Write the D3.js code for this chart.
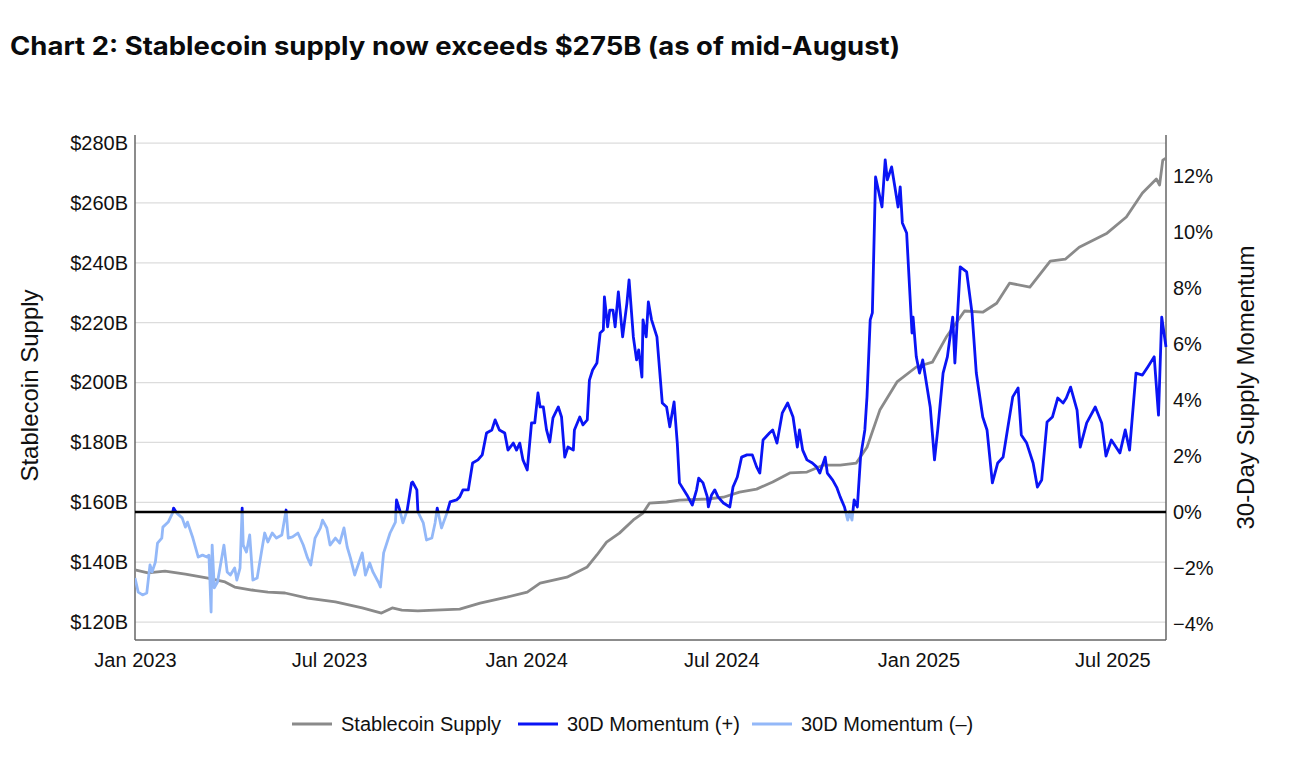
<!DOCTYPE html>
<html>
<head>
<meta charset="utf-8">
<script src="https://cdn.jsdelivr.net/npm/d3@7/dist/d3.min.js"></script>
<style>
  html, body { margin: 0; padding: 0; background: #ffffff; }
  svg { display: block; }
</style>
</head>
<body>
<svg id="chart" width="1290" height="766"></svg>
<script>
// ---------------- DATA ----------------
const titleText = "Chart 2: Stablecoin supply now exceeds $275B (as of mid-August)";
const leftAxisTitle = "Stablecoin Supply";
const rightAxisTitle = "30-Day Supply Momentum";
const legendLabels = ["Stablecoin Supply", "30D Momentum (+)", "30D Momentum (\u2013)"];

const supplyTicks = [120, 140, 160, 180, 200, 220, 240, 260, 280];
const momentumTicks = [-4, -2, 0, 2, 4, 6, 8, 10, 12];
const dateTicks = ["2023-01-01", "2023-07-01", "2024-01-01", "2024-07-01", "2025-01-01", "2025-07-01"];

// Stablecoin supply ($B)
const supplyDates = [
  "2023-01-01","2023-01-13","2023-01-29","2023-02-17","2023-03-10","2023-03-26","2023-04-04","2023-04-20",
  "2023-05-05","2023-05-21","2023-06-11","2023-07-07","2023-08-01","2023-08-19","2023-08-29","2023-09-07",
  "2023-09-22","2023-10-08","2023-10-31","2023-11-19","2023-12-14","2024-01-02","2024-01-14","2024-02-08",
  "2024-02-27","2024-03-07","2024-03-16","2024-03-28","2024-04-10","2024-04-19","2024-04-25","2024-05-11",
  "2024-05-23","2024-06-18","2024-07-03","2024-07-18","2024-08-03","2024-08-18","2024-09-03","2024-09-19",
  "2024-10-04","2024-10-20","2024-11-04","2024-11-14","2024-11-26","2024-12-12","2024-12-30","2025-01-14",
  "2025-01-27","2025-02-13","2025-03-02","2025-03-15","2025-03-27","2025-04-15","2025-05-04","2025-05-18",
  "2025-05-31","2025-06-26","2025-07-14","2025-07-29","2025-08-11","2025-08-14","2025-08-17","2025-08-20"
];
const supplyValues = [
  137.4,136.4,137.0,136.0,134.7,133.4,131.7,130.7,
  130.0,129.7,128.0,126.7,124.7,123.0,124.7,124.0,
  123.7,124.0,124.3,126.3,128.3,130.0,133.0,135.0,
  138.4,142.4,146.7,149.7,154.1,156.4,159.7,160.1,
  160.7,161.1,161.7,163.4,164.4,166.8,169.8,170.1,
  172.4,172.4,173.1,178.4,190.8,200.2,205.2,206.8,
  215.2,223.9,223.5,226.5,233.2,231.9,240.6,241.2,
  245.2,249.9,255.3,263.3,268.0,266.0,274.3,275.0
];

// 30-day supply momentum (%)
const momentumDates = [
  "2023-01-01","2023-01-04","2023-01-08","2023-01-12","2023-01-15","2023-01-17","2023-01-20","2023-01-22",
  "2023-01-26","2023-01-27","2023-02-01","2023-02-05","2023-02-06","2023-02-09","2023-02-14","2023-02-17",
  "2023-02-19","2023-02-24","2023-03-01","2023-03-05","2023-03-09","2023-03-11","2023-03-13","2023-03-14",
  "2023-03-16","2023-03-19","2023-03-25","2023-03-28","2023-03-31","2023-04-04","2023-04-06","2023-04-09",
  "2023-04-11","2023-04-12","2023-04-15","2023-04-18","2023-04-21","2023-04-25","2023-04-29","2023-05-02",
  "2023-05-05","2023-05-09","2023-05-13","2023-05-18","2023-05-22","2023-05-24","2023-05-28","2023-06-02",
  "2023-06-07","2023-06-11","2023-06-14","2023-06-18","2023-06-23","2023-06-25","2023-06-29","2023-07-02",
  "2023-07-07","2023-07-11","2023-07-15","2023-07-18","2023-07-21","2023-07-25","2023-08-01","2023-08-04",
  "2023-08-08","2023-08-11","2023-08-16","2023-08-18","2023-08-21","2023-08-27","2023-09-01","2023-09-02",
  "2023-09-05","2023-09-08","2023-09-12","2023-09-16","2023-09-17","2023-09-21","2023-09-22","2023-09-27",
  "2023-09-30","2023-10-05","2023-10-08","2023-10-10","2023-10-14","2023-10-19","2023-10-22","2023-10-28",
  "2023-10-31","2023-11-03","2023-11-08","2023-11-12","2023-11-17","2023-11-21","2023-11-25","2023-11-30",
  "2023-12-03","2023-12-07","2023-12-12","2023-12-15","2023-12-20","2023-12-23","2023-12-26","2023-12-29",
  "2024-01-02","2024-01-06","2024-01-09","2024-01-12","2024-01-14","2024-01-17","2024-01-20","2024-01-23",
  "2024-01-26","2024-01-31","2024-02-03","2024-02-06","2024-02-09","2024-02-14","2024-02-15","2024-02-20",
  "2024-02-23","2024-02-27","2024-02-29","2024-03-03","2024-03-07","2024-03-10","2024-03-13","2024-03-14",
  "2024-03-17","2024-03-19","2024-03-22","2024-03-24","2024-03-27","2024-03-31","2024-04-04","2024-04-06",
  "2024-04-10","2024-04-13","2024-04-15","2024-04-18","2024-04-19","2024-04-22","2024-04-24","2024-04-27",
  "2024-05-02","2024-05-07","2024-05-11","2024-05-14","2024-05-18","2024-05-21","2024-05-23","2024-05-30",
  "2024-06-04","2024-06-08","2024-06-10","2024-06-14","2024-06-18","2024-06-19","2024-06-22","2024-06-25",
  "2024-06-28","2024-07-03","2024-07-09","2024-07-12","2024-07-16","2024-07-20","2024-07-25","2024-07-30",
  "2024-08-03","2024-08-06","2024-08-09","2024-08-15","2024-08-18","2024-08-22","2024-08-27","2024-09-01",
  "2024-09-06","2024-09-10","2024-09-12","2024-09-15","2024-09-19","2024-09-24","2024-09-28","2024-10-01",
  "2024-10-06","2024-10-08","2024-10-13","2024-10-17","2024-10-20","2024-10-24","2024-10-27","2024-10-29",
  "2024-10-31","2024-11-02","2024-11-05","2024-11-08","2024-11-12","2024-11-14","2024-11-17","2024-11-19",
  "2024-11-22","2024-11-28","2024-12-01","2024-12-03","2024-12-07","2024-12-10","2024-12-13","2024-12-15",
  "2024-12-17","2024-12-21","2024-12-26","2024-12-27","2024-12-30","2025-01-02","2025-01-05","2025-01-12",
  "2025-01-16","2025-01-19","2025-01-24","2025-01-28","2025-02-02","2025-02-04","2025-02-09","2025-02-15",
  "2025-02-20","2025-02-24","2025-03-02","2025-03-06","2025-03-11","2025-03-16","2025-03-21","2025-03-24",
  "2025-03-30","2025-04-04","2025-04-07","2025-04-12","2025-04-18","2025-04-22","2025-04-26","2025-05-01",
  "2025-05-06","2025-05-11","2025-05-16","2025-05-19","2025-05-23","2025-05-29","2025-06-01","2025-06-07",
  "2025-06-15","2025-06-21","2025-06-25","2025-06-30","2025-07-08","2025-07-13","2025-07-17","2025-07-23",
  "2025-07-29","2025-08-03","2025-08-09","2025-08-13","2025-08-16","2025-08-20"
];
const momentumValues = [
  -2.36,-2.86,-2.96,-2.89,-1.89,-2.14,-1.79,-1.11,
  -0.93,-0.54,-0.36,-0.04,0.14,-0.04,-0.21,-0.54,
  -0.36,-0.93,-1.61,-1.54,-1.61,-1.54,-3.57,-1.18,
  -2.71,-2.50,-1.18,-2.14,-2.25,-2.00,-2.43,-2.00,
  0.14,-1.18,-1.43,-0.82,-2.43,-2.36,-1.43,-0.75,
  -1.07,-0.75,-0.93,-0.82,0.07,-0.93,-0.89,-0.75,
  -1.18,-1.64,-1.89,-0.93,-0.57,-0.29,-0.57,-1.18,
  -0.93,-1.11,-0.57,-1.25,-1.64,-2.25,-1.46,-2.25,
  -1.82,-2.14,-2.50,-2.68,-1.46,-0.75,-0.36,0.43,
  0.07,-0.39,0.07,1.04,1.07,0.79,0.00,-0.39,
  -1.00,-0.93,-0.39,0.14,-0.57,-0.04,0.36,0.43,
  0.54,0.79,0.79,1.75,1.86,2.04,2.82,2.93,
  3.29,2.93,2.82,2.21,2.46,2.21,2.46,1.86,
  1.50,3.18,3.18,4.25,3.75,3.75,2.93,2.50,
  3.36,3.75,3.39,1.96,2.32,2.21,2.93,3.39,
  3.11,3.29,4.71,5.07,5.32,6.39,6.50,7.68,
  6.61,7.21,7.21,6.61,7.86,6.25,7.46,8.29,
  6.25,5.43,5.79,4.82,6.86,6.25,7.50,6.86,
  6.25,3.89,3.75,3.04,3.93,2.46,1.04,0.61,
  0.25,0.79,1.21,1.04,0.54,0.18,0.61,0.79,
  0.54,0.32,0.18,0.89,1.25,1.96,2.04,2.04,
  1.61,1.39,2.57,2.82,2.93,2.46,3.54,3.89,
  3.39,2.32,2.93,2.21,1.86,1.75,1.61,1.39,
  1.96,1.39,1.14,0.86,0.54,0.18,-0.29,0.00,
  -0.29,0.43,0.18,1.96,2.93,4.11,6.86,7.11,
  11.96,10.89,12.57,11.86,12.32,11.61,10.89,11.61,
  10.32,9.96,6.39,6.96,5.54,4.96,5.43,3.75,
  1.86,2.93,4.96,5.54,6.96,5.32,8.75,8.57,
  7.11,4.96,3.39,2.93,1.04,1.75,1.96,2.68,
  4.11,4.43,2.75,2.46,1.75,0.89,1.14,3.21,
  3.39,4.07,3.89,4.07,4.46,3.64,2.32,3.18,
  3.75,3.18,2.00,2.57,2.11,2.93,2.21,4.96,
  4.89,5.18,5.54,3.46,6.96,5.89
];

// ---------------- LAYOUT ----------------
const svg = d3.select("#chart");
const W = 1290, H = 766;
const plot = { left: 135, right: 1166, top: 135, bottom: 640 };
const fontAxis = "'Liberation Sans', Arial, Helvetica, sans-serif";

const parse = d3.utcParse("%Y-%m-%d");
const supply = supplyDates.map((d, i) => ({ date: parse(d), value: supplyValues[i] }));
const momentum = momentumDates.map((d, i) => ({ date: parse(d), value: momentumValues[i] }));

const x = d3.scaleUtc()
  .domain([parse("2023-01-01"), parse("2025-08-20")])
  .range([plot.left, plot.right]);
const yL = d3.scaleLinear().domain([114, 282.7]).range([plot.bottom, plot.top]);
const yR = d3.scaleLinear().domain([-4.57, 13.46]).range([plot.bottom, plot.top]);

svg.append("rect").attr("width", W).attr("height", H).attr("fill", "#ffffff");

// Title
svg.append("text")
  .attr("x", 10).attr("y", 55)
  .attr("font-family", "Inter, 'Open Sans', sans-serif")
  .attr("font-weight", 700)
  .attr("font-size", 25)
  .attr("fill", "#0a0b0d")
  .attr("textLength", 890)
  .attr("lengthAdjust", "spacingAndGlyphs")
  .text(titleText);

// Gridlines (left axis)
svg.append("g").selectAll("line").data(supplyTicks).join("line")
  .attr("x1", plot.left).attr("x2", plot.right)
  .attr("y1", d => yL(d)).attr("y2", d => yL(d))
  .attr("stroke", "#dcdcdc").attr("stroke-width", 1.3);

// Left axis
const leftAxis = svg.append("g").attr("transform", `translate(${plot.left},0)`)
  .call(d3.axisLeft(yL).tickValues(supplyTicks).tickSize(0).tickPadding(7).tickFormat(d => `$${d}B`));
leftAxis.select(".domain").remove();
leftAxis.selectAll("text").attr("font-family", fontAxis).attr("font-size", 20).attr("fill", "#111");

// Right axis
const rightAxis = svg.append("g").attr("transform", `translate(${plot.right},0)`)
  .call(d3.axisRight(yR).tickValues(momentumTicks).tickSize(0).tickPadding(7)
    .tickFormat(d => (d < 0 ? "\u2212" + Math.abs(d) : d) + "%"));
rightAxis.select(".domain").remove();
rightAxis.selectAll("text").attr("font-family", fontAxis).attr("font-size", 20).attr("fill", "#111");

// Bottom axis
const bottomAxis = svg.append("g").attr("transform", `translate(0,${plot.bottom})`)
  .call(d3.axisBottom(x).tickValues(dateTicks.map(parse)).tickSize(0).tickPadding(13)
    .tickFormat(d3.utcFormat("%b %Y")));
bottomAxis.select(".domain").remove();
bottomAxis.selectAll("text").attr("font-family", fontAxis).attr("font-size", 20).attr("fill", "#111");

// Frame lines
svg.append("line").attr("x1", plot.left).attr("x2", plot.left).attr("y1", plot.top).attr("y2", plot.bottom)
  .attr("stroke", "#666").attr("stroke-width", 1.5);
svg.append("line").attr("x1", plot.right).attr("x2", plot.right).attr("y1", plot.top).attr("y2", plot.bottom)
  .attr("stroke", "#666").attr("stroke-width", 1.5);
svg.append("line").attr("x1", plot.left).attr("x2", plot.right).attr("y1", plot.bottom).attr("y2", plot.bottom)
  .attr("stroke", "#666").attr("stroke-width", 1.5);

// Clips for momentum sign
const defs = svg.append("defs");
defs.append("clipPath").attr("id", "clipPos").append("rect")
  .attr("x", plot.left).attr("y", 0).attr("width", plot.right - plot.left + 2).attr("height", yR(0));
defs.append("clipPath").attr("id", "clipNeg").append("rect")
  .attr("x", plot.left).attr("y", yR(0)).attr("width", plot.right - plot.left + 2).attr("height", H - yR(0));

// Supply line
const lineL = d3.line().x(d => x(d.date)).y(d => yL(d.value));
svg.append("path").datum(supply)
  .attr("d", lineL).attr("fill", "none")
  .attr("stroke", "#8a8a8a").attr("stroke-width", 2.8).attr("stroke-linejoin", "round");

// Momentum lines
const lineR = d3.line().x(d => x(d.date)).y(d => yR(d.value));
svg.append("path").datum(momentum)
  .attr("d", lineR).attr("fill", "none").attr("clip-path", "url(#clipNeg)")
  .attr("stroke", "#93b8f8").attr("stroke-width", 2.8).attr("stroke-linejoin", "round");
svg.append("path").datum(momentum)
  .attr("d", lineR).attr("fill", "none").attr("clip-path", "url(#clipPos)")
  .attr("stroke", "#0a14f5").attr("stroke-width", 2.8).attr("stroke-linejoin", "round");

// Zero line
svg.append("line")
  .attr("x1", plot.left).attr("x2", plot.right)
  .attr("y1", yR(0)).attr("y2", yR(0))
  .attr("stroke", "#000").attr("stroke-width", 2.4);

// Axis titles
svg.append("text")
  .attr("transform", `translate(38, ${(plot.top + plot.bottom) / 2 - 2}) rotate(-90)`)
  .attr("text-anchor", "middle")
  .attr("font-family", fontAxis).attr("font-size", 24).attr("fill", "#111")
  .text(leftAxisTitle);
svg.append("text")
  .attr("transform", `translate(1254, ${(plot.top + plot.bottom) / 2}) rotate(-90)`)
  .attr("text-anchor", "middle")
  .attr("font-family", fontAxis).attr("font-size", 24).attr("fill", "#111")
  .text(rightAxisTitle);

// Legend
const legendColors = ["#8a8a8a", "#0a14f5", "#93b8f8"];
const legendLineX = [292, 518, 752];
const legendY = 724;
const lg = svg.append("g");
legendLabels.forEach((lab, i) => {
  lg.append("line")
    .attr("x1", legendLineX[i]).attr("x2", legendLineX[i] + 40)
    .attr("y1", legendY).attr("y2", legendY)
    .attr("stroke", legendColors[i]).attr("stroke-width", 2.8);
  lg.append("text")
    .attr("x", legendLineX[i] + 49).attr("y", legendY + 7)
    .attr("font-family", fontAxis).attr("font-size", 20).attr("fill", "#111")
    .text(lab);
});
</script>
</body>
</html>
